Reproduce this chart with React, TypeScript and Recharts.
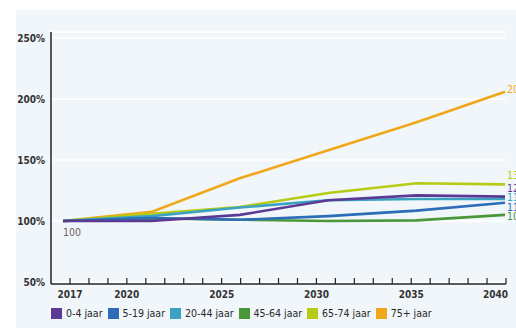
import { LineChart, Line, XAxis, YAxis, CartesianGrid, Legend, LabelList } from 'recharts';

const FONT = "'DejaVu Sans Condensed', 'Liberation Sans Narrow', 'DejaVu Sans', sans-serif";

// meetmomenten (index 2017 = 100)
const years = ['2017', '2020', '2025', '2030', '2035', '2040'];
const age0to4 = [100, 100, 105, 117, 121, 120];
const age5to19 = [100, 102.5, 101, 104, 108.5, 115];
const age20to44 = [100, 104, 111, 117, 118, 118];
const age45to64 = [100, 102, 101, 100, 100.5, 105];
const age65to74 = [100, 106, 111.5, 123, 131, 130];
const age75plus = [100, 107.5, 135, 158, 181, 206];

const yearLabels = [2017, 2020, 2025, 2030, 2035, 2040];
const yearTicks = Array.from({ length: 24 }, (_, i) => 2017 + i);
const percentTicks = [50, 100, 150, 200, 250];

// tekenvolgorde: onderste lijn eerst
const series = [
  { key: 'age75plus', name: '75+ jaar', color: '#f0a71a', values: age75plus, labelDy: -3 },
  { key: 'age65to74', name: '65-74 jaar', color: '#b6cc14', values: age65to74, labelDy: -9 },
  { key: 'age20to44', name: '20-44 jaar', color: '#3ba2c2', values: age20to44, labelDy: -2 },
  { key: 'age45to64', name: '45-64 jaar', color: '#48973a', values: age45to64, labelDy: 1 },
  { key: 'age5to19', name: '5-19 jaar', color: '#2c6cb8', values: age5to19, labelDy: 4 },
  { key: 'age0to4', name: '0-4 jaar', color: '#5a3a94', values: age0to4, labelDy: -9 },
];
const legendOrder = ['age0to4', 'age5to19', 'age20to44', 'age45to64', 'age65to74', 'age75plus'];

const data = years.map((year, i) => {
  const row: Record<string, number | string> = { year, yearNum: Number(year) };
  series.forEach((s) => {
    row[s.key] = s.values[i];
  });
  return row;
});

const YearTick = ({ x, y, payload }: any) => {
  const v = payload.value;
  const isLast = v === 2040;
  return (
    <g>
      <line x1={x} x2={x} y1={y} y2={y - 6} stroke="#222" strokeWidth={1.2} />
      {yearLabels.includes(v) && (
        <text
          x={isLast ? x + 2 : x}
          y={y + 14}
          textAnchor={isLast ? 'end' : 'middle'}
          fill="#333"
          fontSize={10}
          fontWeight={700}
          fontFamily={FONT}
        >
          {v}
        </text>
      )}
    </g>
  );
};

const endLabel = (color: string, dy: number) => (p: any) => {
  if (p.index !== years.length - 1) return null;
  return (
    <text x={p.x + 2} y={p.y + dy + 4} fill={color} fontSize={10.5} fontFamily={FONT}>
      {Math.round(p.value)}
    </text>
  );
};

const startLabel = (p: any) => {
  if (p.index !== 0) return null;
  return (
    <text x={p.x} y={p.y + 15} fill="#666" fontSize={10.5} fontFamily={FONT}>
      {Math.round(p.value)}
    </text>
  );
};

const LegendContent = () => (
  <div style={{ display: 'flex', alignItems: 'center', fontFamily: FONT, fontSize: 10.5, color: '#2a2a2a' }}>
    {legendOrder.map((k) => {
      const s = series.find((x) => x.key === k)!;
      return (
        <div key={k} style={{ display: 'flex', alignItems: 'center', marginRight: 5 }}>
          <span style={{ width: 11, height: 11, background: s.color, display: 'inline-block', marginRight: 4 }} />
          <span>{s.name}</span>
        </div>
      );
    })}
  </div>
);

export default function App() {
  return (
    <div style={{ position: 'absolute', left: 0, top: 0, width: 516, height: 328, background: '#fff', overflow: 'hidden' }}>
      <div style={{ position: 'absolute', left: 16, top: 10, width: 500, height: 318, background: '#f1f6fa' }} />
      <div style={{ position: 'absolute', left: 0, top: 0 }}>
        <LineChart width={516} height={328} data={data} margin={{ top: 32, right: 10, bottom: 14, left: 0 }}>
          <CartesianGrid xAxisId="yr" vertical={false} stroke="#ffffff" strokeWidth={1.5} />
          <XAxis
            xAxisId="cat"
            dataKey="year"
            type="category"
            hide
            height={0}
            padding={{ left: 12, right: 1 }}
          />
          <XAxis
            xAxisId="yr"
            dataKey="yearNum"
            type="number"
            domain={[2017, 2040]}
            ticks={yearTicks}
            interval={0}
            height={30}
            padding={{ left: 19, right: 0 }}
            axisLine={{ stroke: '#222', strokeWidth: 1.5 }}
            tickLine={false}
            tickSize={0}
            tickMargin={0}
            tick={<YearTick />}
          />
          <YAxis
            domain={[50, 250]}
            ticks={percentTicks}
            width={51}
            padding={{ top: 6, bottom: 2 }}
            axisLine={{ stroke: '#222', strokeWidth: 1.5 }}
            tickLine={false}
            tickSize={0}
            tickMargin={6}
            tickFormatter={(v) => `${v}%`}
            tick={{ fill: '#333', fontSize: 10, fontWeight: 700, fontFamily: FONT }}
          />
          <Legend
            verticalAlign="middle"
            layout="horizontal"
            wrapperStyle={{ top: 307, left: 51, width: 465 }}
            content={<LegendContent />}
          />
          {series.map((s) => (
            <Line
              key={s.key}
              xAxisId="cat"
              type="linear"
              dataKey={s.key}
              name={s.name}
              stroke={s.color}
              strokeWidth={2.6}
              dot={false}
              activeDot={false}
              isAnimationActive={false}
            >
              <LabelList dataKey={s.key} content={endLabel(s.color, s.labelDy)} />
              {s.key === 'age0to4' && <LabelList dataKey={s.key} content={startLabel} />}
            </Line>
          ))}
        </LineChart>
      </div>
    </div>
  );
}
